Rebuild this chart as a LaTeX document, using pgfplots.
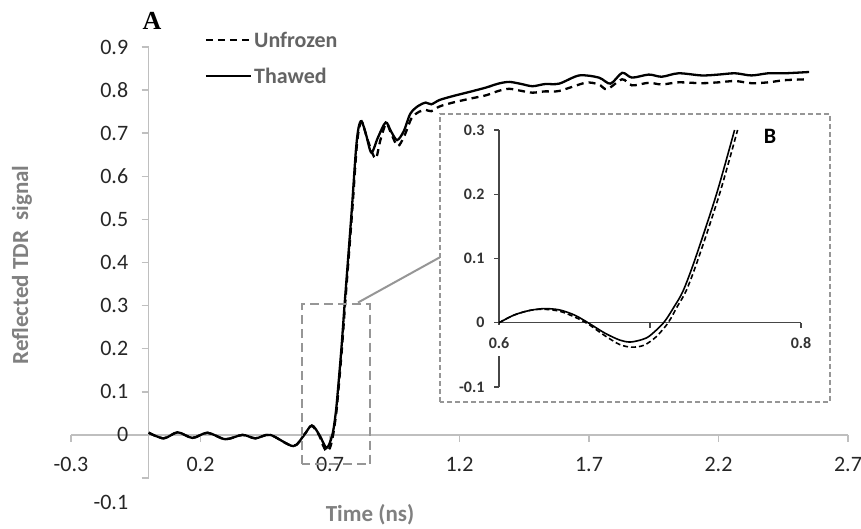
\documentclass[border=0pt]{standalone}
\usepackage{fontspec}
\setmainfont{Carlito}
\newfontfamily\serifA{Liberation Serif}
\usepackage{pgfplots}
\pgfplotsset{compat=1.18}

\definecolor{axgray}{RGB}{191,191,191}
\definecolor{labgray}{RGB}{128,128,128}
\definecolor{txtgray}{RGB}{100,100,100}
\definecolor{boxgray}{RGB}{150,150,150}
\definecolor{insetax}{RGB}{70,70,70}

\begin{document}
\begin{tikzpicture}[x=1pt,y=1pt]
\path[use as bounding box] (0,0) rectangle (861,529);

% main chart
\begin{axis}[
    at={(71pt,51pt)}, anchor=south west,
    scale only axis, width=777pt, height=431pt,
    xmin=-0.3, xmax=2.7, ymin=-0.1, ymax=0.9,
    enlargelimits=false,
    axis lines=middle,
    axis line style={axgray, line width=1.5pt, -},
    xtick={-0.3,0.2,0.7,1.2,1.7,2.2,2.7},
    ytick={0,0.1,0.2,0.3,0.4,0.5,0.6,0.7,0.8,0.9},
    extra y ticks={-0.1},
    extra y tick style={yticklabel style={yshift=-24pt}},
    hide obscured x ticks=false, hide obscured y ticks=false,
    tick style={axgray, line width=1.5pt},
    major tick length=7pt,
    tick align=outside,
    /pgf/number format/assume math mode=true,
    ticklabel style={font=\fontsize{22}{24}\selectfont, text=black!85},
    xticklabel style={yshift=-12pt},
    yticklabel style={xshift=-10pt},
    legend style={at={(axis description cs:0.172,1.04)}, anchor=north west,
        draw=none, fill=none, inner sep=0pt, row sep=15pt,
        font=\fontsize{22}{24}\selectfont\bfseries, text=txtgray},
    legend cell align=left,
    legend image code/.code={\draw[#1] (0pt,0pt) -- (45pt,0pt);},
]
\addplot[black, line width=2.3pt, dash pattern=on 7pt off 5pt, smooth, tension=0.5] coordinates {
(0.000,0.005) (0.058,-0.008) (0.112,0.006) (0.169,-0.007) (0.227,0.005)
(0.296,-0.010) (0.362,0.000) (0.412,-0.008) (0.469,0.000) (0.558,-0.026)
(0.600,0.000) (0.629,0.021) (0.659,-0.002) (0.670,-0.020) (0.686,-0.038)
(0.700,-0.030) (0.712,0.000) (0.724,0.050) (0.732,0.100) (0.746,0.200)
(0.758,0.300) (0.772,0.410) (0.787,0.530) (0.802,0.660) (0.812,0.710)
(0.824,0.725) (0.845,0.685) (0.870,0.645) (0.880,0.645) (0.895,0.685)
(0.917,0.722) (0.937,0.698) (0.962,0.670) (0.988,0.695) (1.015,0.735)
(1.045,0.750) (1.070,0.754) (1.091,0.751) (1.123,0.762) (1.174,0.771)
(1.240,0.780) (1.303,0.788) (1.350,0.798) (1.392,0.803) (1.440,0.798)
(1.482,0.794) (1.530,0.797) (1.585,0.798) (1.687,0.817) (1.738,0.813)
(1.770,0.802) (1.828,0.825) (1.866,0.811) (1.931,0.817) (1.981,0.813)
(2.046,0.818) (2.135,0.816) (2.200,0.818) (2.264,0.821) (2.327,0.816)
(2.392,0.818) (2.456,0.823) (2.540,0.825)
};
\addlegendentry{Unfrozen}
\addplot[black, line width=2.3pt, smooth, tension=0.5] coordinates {
(0.000,0.005) (0.058,-0.008) (0.112,0.006) (0.169,-0.007) (0.227,0.005)
(0.296,-0.010) (0.362,0.000) (0.412,-0.008) (0.469,0.000) (0.558,-0.026)
(0.600,0.000) (0.630,0.022) (0.659,0.000) (0.687,-0.030) (0.709,0.000)
(0.722,0.050) (0.730,0.100) (0.744,0.200) (0.756,0.300) (0.770,0.410)
(0.785,0.530) (0.800,0.660) (0.810,0.712) (0.822,0.728) (0.840,0.695)
(0.860,0.655) (0.885,0.690) (0.915,0.725) (0.935,0.705) (0.959,0.684)
(0.985,0.705) (1.010,0.745) (1.040,0.763) (1.070,0.771) (1.091,0.767)
(1.123,0.777) (1.174,0.786) (1.240,0.796) (1.303,0.806) (1.350,0.815)
(1.392,0.819) (1.440,0.814) (1.482,0.809) (1.530,0.814) (1.585,0.815)
(1.662,0.834) (1.738,0.829) (1.783,0.815) (1.828,0.840) (1.866,0.829)
(1.931,0.836) (1.981,0.831) (2.046,0.839) (2.135,0.834) (2.200,0.836)
(2.264,0.839) (2.327,0.834) (2.392,0.839) (2.456,0.839) (2.550,0.842)
};
\addlegendentry{Thawed}
% zoom box and connector
\draw[boxgray, line width=2pt, dash pattern=on 9pt off 5pt]
    (axis cs:0.592,-0.068) rectangle (axis cs:0.854,0.303);
\draw[boxgray, line width=2pt] (axis cs:0.808,0.307) -- (axis cs:1.124,0.412);
\end{axis}

% inset frame
\draw[boxgray, line width=1.5pt, dash pattern=on 5pt off 3pt, fill=white]
    (440,127) rectangle (830,415);

\begin{axis}[
    at={(499pt,142pt)}, anchor=south west,
    scale only axis, width=302pt, height=257pt,
    xmin=0.6, xmax=0.8, ymin=-0.1, ymax=0.3,
    enlargelimits=false,
    clip=false,
    axis lines=middle,
    axis line style={insetax, line width=1.2pt, -},
    xtick={0.6,0.7,0.8}, xticklabels={},
    ytick={-0.1,0,0.1,0.2,0.3},
    hide obscured x ticks=false, hide obscured y ticks=false,
    tick style={insetax, line width=1.2pt},
    major tick length=5pt,
    tick align=outside,
    /pgf/number format/assume math mode=true,
    ticklabel style={font=\fontsize{16}{18}\selectfont\bfseries, text=black!80},
    yticklabel style={xshift=-6pt},
]
\addplot[black, line width=1.6pt, dash pattern=on 5pt off 3pt, smooth, tension=0.5] coordinates {
(0.600,0.000) (0.610,0.012) (0.620,0.019) (0.629,0.021) (0.640,0.018)
(0.650,0.009) (0.659,-0.002) (0.670,-0.020) (0.680,-0.034) (0.688,-0.038)
(0.696,-0.035) (0.704,-0.022) (0.712,0.000) (0.718,0.025) (0.724,0.050)
(0.732,0.100) (0.746,0.200) (0.758,0.300)
};
\addplot[black, line width=1.6pt, smooth, tension=0.5] coordinates {
(0.600,0.000) (0.610,0.012) (0.620,0.019) (0.630,0.022) (0.640,0.020)
(0.650,0.012) (0.659,0.000) (0.670,-0.016) (0.680,-0.027) (0.687,-0.030)
(0.695,-0.026) (0.700,-0.020) (0.709,0.000) (0.716,0.025) (0.722,0.050)
(0.730,0.100) (0.744,0.200) (0.756,0.300)
};
\fill[white] (axis cs:0.596,-0.003) rectangle (axis cs:0.604,-0.052);
\node[font=\fontsize{16}{18}\selectfont\bfseries, text=black!80] at (axis cs:0.6,-0.031) {0.6};
\node[font=\fontsize{16}{18}\selectfont\bfseries, text=black!80] at (axis cs:0.8,-0.031) {0.8};
\end{axis}

\node[font=\fontsize{22}{24}\selectfont\bfseries] at (770,393) {B};
\node[font=\serifA\fontsize{26}{28}\selectfont\bfseries] at (152,508) {A};
\node[rotate=90, font=\fontsize{23}{26}\selectfont\bfseries, text=labgray] at (22,264) {Reflected TDR\ \ signal};
\node[font=\fontsize{23}{26}\selectfont\bfseries, text=labgray] at (370,14) {Time (ns)};
\end{tikzpicture}
\end{document}
